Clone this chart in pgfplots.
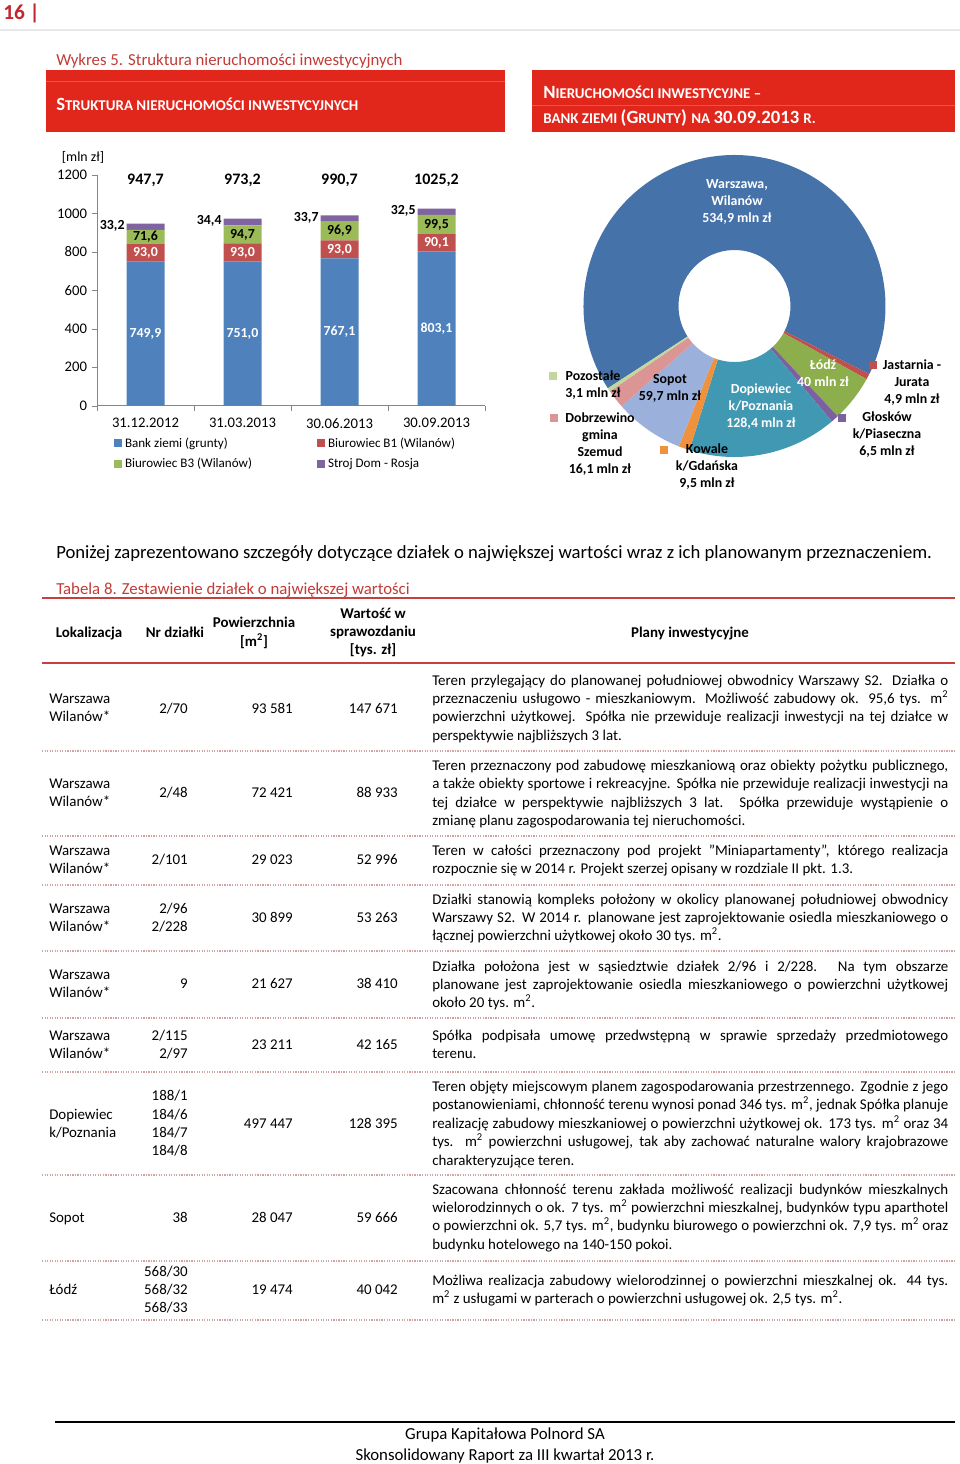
\documentclass[border=0pt]{standalone}
\usepackage{fontspec}
\setmainfont{Carlito}
\usepackage{pgfplots}
\pgfplotsset{compat=1.18}
\usepackage{pgfplotstable}

\definecolor{pgred}{HTML}{C0282D}
\definecolor{boxred}{HTML}{E1261C}
\definecolor{boxline}{HTML}{E9574C}
\definecolor{capred}{HTML}{C33A36}
\definecolor{rulered}{HTML}{C7403D}
\definecolor{rowline}{HTML}{CFA3A3}
\definecolor{axgray}{HTML}{868686}
\definecolor{bblue}{HTML}{4F81BD}
\definecolor{bred}{HTML}{C0504D}
\definecolor{bgreen}{HTML}{9BBB59}
\definecolor{bpurple}{HTML}{8064A2}
\definecolor{dwar}{HTML}{4672AA}
\definecolor{djas}{HTML}{C0504D}
\definecolor{dlod}{HTML}{8DAE4C}
\definecolor{dglo}{HTML}{7D60A0}
\definecolor{ddop}{HTML}{4198B3}
\definecolor{dkow}{HTML}{F0913E}
\definecolor{dsop}{HTML}{9BB0DA}
\definecolor{ddob}{HTML}{DA9594}
\definecolor{dpoz}{HTML}{C3D69B}

\newcommand\fsz[2]{\fontsize{#1}{#2}\selectfont}
\tikzset{
  seg/.style={font=\fsz{10.4}{12}\bfseries,inner sep=1pt},
  tot/.style={font=\fsz{12}{14}\bfseries},
  dl/.style={align=center,font=\fsz{10.4}{12.75}\bfseries,inner sep=0},
  th/.style={font=\fsz{11.2}{13}\bfseries,inner sep=0,anchor=base},
}
\pgfplotsset{
  barframe/.style={
    at={(72.75pt,-304.275pt)}, anchor=south west,
    scale only axis, width=291pt, height=173pt,
    xmin=-0.5, xmax=3.5, ymin=0, ymax=1200, clip=false,
  },
}

% bar chart data [mln zl]
\pgfplotstableread{
x bank b1 b3 stroj
0 749.9 93.0 71.6 33.2
1 751.0 93.0 94.7 34.4
2 767.1 93.0 96.9 33.7
3 803.1 90.1 99.5 32.5
}\bars

% doughnut data, clockwise
\pgfplotstableread{
v c
534.9 dwar
4.9 djas
40 dlod
6.5 dglo
128.4 ddop
9.5 dkow
59.7 dsop
16.1 ddob
3.1 dpoz
}\donut

% table text lines
\newcommand\pl[2]{\node[anchor=base west,inner sep=0] at (432,#1) {\makebox[387pt][s]{#2}};}
\newcommand\plx[2]{\node[anchor=base west,inner sep=0] at (432,#1) {#2};}
\newcommand\loc[2]{\node[anchor=base west,inner sep=0] at (49,#1) {#2};}
\newcommand\nr[2]{\node[anchor=base east,inner sep=0] at (188,#1) {#2};}
\newcommand\pow[2]{\node[anchor=base east,inner sep=0] at (293,#1) {#2};}
\newcommand\war[2]{\node[anchor=base east,inner sep=0] at (398,#1) {#2};}
\newcommand\msq{m\textsuperscript{2}}
\newcommand\bg{\fsz{14}{16}}
\newcommand\sm{\fsz{11.2}{13}}

\begin{document}
\begin{tikzpicture}[x=0.75pt,y=-0.75pt]
\path[use as bounding box] (0,0) rectangle (960,1464);

% page head
\node[anchor=base west,inner sep=0,text=pgred,font=\fsz{16}{18}\bfseries] at (3,19) {16 |};
\draw[line width=2.2pt,draw=black!9] (0,30) -- (960,30);

\node[anchor=base west,inner sep=0,text=capred,font=\fsz{12.6}{14}] at (56,65) {Wykres 5. Struktura nieruchomości inwestycyjnych};

\fill[boxred] (46,70) rectangle (505,132);
\fill[boxred] (532,70) rectangle (955,132);
\draw[boxline,line width=0.6pt] (46,81) -- (505,81);
\draw[boxline,line width=0.6pt] (532,105) -- (955,105);
\node[anchor=base west,inner sep=0,text=white,font=\bfseries] at (56,110)
  {\bg S\sm TRUKTURA NIERUCHOMOŚCI INWESTYCYJNYCH};
\node[anchor=base west,inner sep=0,text=white,font=\bfseries] at (543,98)
  {\bg N\sm IERUCHOMOŚCI INWESTYCYJNE –};
\node[anchor=base west,inner sep=0,text=white,font=\bfseries] at (543,123)
  {\sm BANK ZIEMI \bg (G\sm RUNTY\bg ) \sm NA \bg 30.09.2013 \sm R.};

% stacked bar chart
\node[font=\fsz{10.4}{12}] at (83,157) {[mln zł]};
\begin{axis}[
  barframe,
  ybar stacked, bar width=28.5pt,
  axis x line*=bottom, axis y line*=left,
  axis line style={draw=axgray},
  tick style={draw=axgray},
  tick align=outside, major tick length=4pt,
  ytick={0,200,...,1200},
  xtick={-0.5,0.5,1.5,2.5,3.5}, xticklabels={},
  extra x ticks={0,1,2,3},
  extra x tick labels={31.12.2012,31.03.2013,30.06.2013,30.09.2013},
  extra x tick style={major tick length=0pt},
  ticklabel style={font=\fsz{11}{13}},
  x tick label style={yshift=-6pt},
  /pgf/number format/assume math mode=true,
  /pgf/number format/1000 sep={},
  legend columns=2,
  legend cell align=left,
  legend style={at={(0.044,-0.125)}, anchor=north west, draw=none,
    font=\fsz{9.8}{11}, inner sep=0pt, row sep=3pt,
    /tikz/every even column/.append style={column sep=47pt}},
  legend image code/.code={\draw[#1,draw=none] (0pt,-3pt) rectangle (6pt,3pt);},
]
\addplot[fill=bblue,draw=none] table[x=x,y=bank] {\bars};
\addplot[fill=bred,draw=none] table[x=x,y=b1] {\bars};
\addplot[fill=bgreen,draw=none] table[x=x,y=b3] {\bars};
\addplot[fill=bpurple,draw=none] table[x=x,y=stroj] {\bars};
\legend{Bank ziemi (grunty),Biurowiec B1 (Wilanów),Biurowiec B3 (Wilanów),Stroj Dom - Rosja}
\end{axis}

% value labels, in the same frame, drawn over the bars
\begin{axis}[barframe, hide axis]
\addplot[draw=none,mark=none,forget plot] coordinates {(0,0)};
\node[seg,text=white] at (axis cs:0,375) {749,9};
\node[seg,text=white] at (axis cs:1,375) {751,0};
\node[seg,text=white] at (axis cs:2,383) {767,1};
\node[seg,text=white] at (axis cs:3,401) {803,1};
\node[seg,text=white] at (axis cs:0,796) {93,0};
\node[seg,text=white] at (axis cs:1,797) {93,0};
\node[seg,text=white] at (axis cs:2,813) {93,0};
\node[seg,text=white] at (axis cs:3,848) {90,1};
\node[seg] at (axis cs:0,879) {71,6};
\node[seg] at (axis cs:1,891) {94,7};
\node[seg] at (axis cs:2,908) {96,9};
\node[seg] at (axis cs:3,943) {99,5};
\node[seg,anchor=east,xshift=-14.5pt] at (axis cs:0,936) {33,2};
\node[seg,anchor=east,xshift=-14.5pt] at (axis cs:1,960) {34,4};
\node[seg,anchor=east,xshift=-14.5pt] at (axis cs:2,978) {33,7};
\node[seg,anchor=east,xshift=-14.5pt] at (axis cs:3,1015) {32,5};
\node[tot] at (axis cs:0,1175) {947,7};
\node[tot] at (axis cs:1,1175) {973,2};
\node[tot] at (axis cs:2,1175) {990,7};
\node[tot] at (axis cs:3,1175) {1025,2};
\end{axis}

% doughnut chart
\begin{axis}[
  at={(550.875pt,-229.5pt)}, anchor=center,
  hide axis, scale only axis, width=226.5pt, height=226.5pt,
  xmin=-1, xmax=1, ymin=-1, ymax=1, clip=false,
]
\addplot[draw=none,mark=none,forget plot] coordinates {(0,0)};
\pgfplotsextra{
  \pgfplotstablegetrowsof{\donut}\pgfmathtruncatemacro\nrows{\pgfplotsretval-1}
  \gdef\dsum{0}
  \foreach \i in {0,...,\nrows}{
    \pgfplotstablegetelem{\i}{v}\of\donut
    \pgfmathparse{\dsum+\pgfplotsretval}\xdef\dsum{\pgfmathresult}
  }
  \gdef\astart{213}
  \foreach \i in {0,...,\nrows}{
    \pgfplotstablegetelem{\i}{v}\of\donut \let\val\pgfplotsretval
    \pgfplotstablegetelem{\i}{c}\of\donut \let\col\pgfplotsretval
    \pgfmathsetmacro\aend{\astart-\val/\dsum*360}
    \fill[fill=\col,shift={(axis cs:0,0)}] (\astart:113.25pt)
      arc[start angle=\astart,end angle=\aend,radius=113.25pt]
      -- (\aend:42pt) arc[start angle=\aend,end angle=\astart,radius=42pt] -- cycle;
    \xdef\astart{\aend}
  }
}
\end{axis}

\node[dl,text=white] at (737,202) {Warszawa,\\Wilanów\\534,9 mln zł};
\node[dl] at (593,385.5) {Pozostałe\\3,1 mln zł};
\node[dl] at (600,444.5) {Dobrzewino\\gmina\\Szemud\\16,1 mln zł};
\node[dl] at (670,388) {Sopot\\59,7 mln zł};
\node[dl,text=white] at (761,407) {Dopiewiec\\k/Poznania\\128,4 mln zł};
\node[dl] at (707,467) {Kowale\\k/Gdańska\\9,5 mln zł};
\node[dl,text=white] at (823,373.5) {Łódź\\40 mln zł};
\node[dl] at (912,382.5) {Jastarnia -\\Jurata\\4,9 mln zł};
\node[dl] at (887,435) {Głosków\\k/Piaseczna\\6,5 mln zł};
\node[inner sep=0] at (553,376) {\textcolor{dpoz}{\rule{6pt}{6pt}}};
\node[inner sep=0] at (554,418) {\textcolor{ddob}{\rule{6pt}{6pt}}};
\node[inner sep=0] at (664,450) {\textcolor{dkow}{\rule{6pt}{6pt}}};
\node[inner sep=0] at (873,365) {\textcolor{djas}{\rule{6pt}{6pt}}};
\node[inner sep=0] at (842,418) {\textcolor{dglo}{\rule{6pt}{6pt}}};

% text and table
\node[anchor=base west,inner sep=0,font=\fsz{14}{16}] at (56,558) {Poniżej zaprezentowano szczegóły dotyczące działek o największej wartości wraz z ich planowanym przeznaczeniem.};
\node[anchor=base west,inner sep=0,text=capred,font=\fsz{12.6}{14}] at (56,594) {Tabela 8. Zestawienie działek o największej wartości};
\draw[rulered,line width=1.6pt] (42,598) -- (955,598);
\draw[rulered,line width=1.6pt] (42,663) -- (955,663);
\foreach \yy in {751,836,885,951,1018,1072,1175,1261,1320}
  \draw[rowline,line width=0.9pt,densely dotted] (42,\yy) -- (955,\yy);

\node[th] at (89,637) {Lokalizacja};
\node[th] at (175,637) {Nr działki};
\node[th] at (254,627) {Powierzchnia};
\node[th] at (254,646) {[\msq]};
\node[th] at (373,618) {Wartość w};
\node[th] at (373,636) {sprawozdaniu};
\node[th] at (373,654) {[tys. zł]};
\node[th] at (690,637) {Plany inwestycyjne};

\begin{scope}[font=\fsz{11.2}{13}]
% row 1
\loc{703}{Warszawa}\loc{721}{Wilanów*}
\nr{713}{2/70}\pow{713}{93 581}\war{713}{147 671}
\pl{685}{Teren przylegający do planowanej południowej obwodnicy Warszawy S2. Działka o}
\pl{703}{przeznaczeniu usługowo - mieszkaniowym. Możliwość zabudowy ok. 95,6 tys. \msq}
\pl{721}{powierzchni użytkowej. Spółka nie przewiduje realizacji inwestycji na tej działce w}
\plx{740}{perspektywie najbliższych 3 lat.}
% row 2
\loc{788}{Warszawa}\loc{806}{Wilanów*}
\nr{797}{2/48}\pow{797}{72 421}\war{797}{88 933}
\pl{770}{Teren przeznaczony pod zabudowę mieszkaniową oraz obiekty pożytku publicznego,}
\pl{788}{a także obiekty sportowe i rekreacyjne. Spółka nie przewiduje realizacji inwestycji na}
\pl{807}{tej działce w perspektywie najbliższych 3 lat. Spółka przewiduje wystąpienie o}
\plx{825}{zmianę planu zagospodarowania tej nieruchomości.}
% row 3
\loc{855}{Warszawa}\loc{873}{Wilanów*}
\nr{864}{2/101}\pow{864}{29 023}\war{864}{52 996}
\pl{855}{Teren w całości przeznaczony pod projekt "Miniapartamenty", którego realizacja}
\plx{873}{rozpocznie się w 2014 r. Projekt szerzej opisany w rozdziale II pkt. 1.3.}
% row 4
\loc{913}{Warszawa}\loc{931}{Wilanów*}
\nr{913}{2/96}\nr{931}{2/228}\pow{922}{30 899}\war{922}{53 263}
\pl{904}{Działki stanowią kompleks położony w okolicy planowanej południowej obwodnicy}
\pl{922}{Warszawy S2. W 2014 r. planowane jest zaprojektowanie osiedla mieszkaniowego o}
\plx{940}{łącznej powierzchni użytkowej około 30 tys. \msq.}
% row 5
\loc{979}{Warszawa}\loc{997}{Wilanów*}
\nr{988}{9}\pow{988}{21 627}\war{988}{38 410}
\pl{971}{Działka położona jest w sąsiedztwie działek 2/96 i 2/228. Na tym obszarze}
\pl{989}{planowane jest zaprojektowanie osiedla mieszkaniowego o powierzchni użytkowej}
\plx{1007}{około 20 tys. \msq.}
% row 6
\loc{1040}{Warszawa}\loc{1058}{Wilanów*}
\nr{1040}{2/115}\nr{1058}{2/97}\pow{1049}{23 211}\war{1049}{42 165}
\pl{1040}{Spółka podpisała umowę przedwstępną w sprawie sprzedaży przedmiotowego}
\plx{1058}{terenu.}
% row 7
\loc{1119}{Dopiewiec}\loc{1137}{k/Poznania}
\nr{1100}{188/1}\nr{1119}{184/6}\nr{1137}{184/7}\nr{1155}{184/8}
\pow{1128}{497 447}\war{1128}{128 395}
\pl{1091}{Teren objęty miejscowym planem zagospodarowania przestrzennego. Zgodnie z jego}
\pl{1109}{postanowieniami, chłonność terenu wynosi ponad 346 tys. \msq, jednak Spółka planuje}
\pl{1128}{realizację zabudowy mieszkaniowej o powierzchni użytkowej ok. 173 tys. \msq{} oraz 34}
\pl{1146}{tys. \msq{} powierzchni usługowej, tak aby zachować naturalne walory krajobrazowe}
\plx{1165}{charakteryzujące teren.}
% row 8
\loc{1222}{Sopot}
\nr{1222}{38}\pow{1222}{28 047}\war{1222}{59 666}
\pl{1194}{Szacowana chłonność terenu zakłada możliwość realizacji budynków mieszkalnych}
\pl{1212}{wielorodzinnych o ok. 7 tys. \msq{} powierzchni mieszkalnej, budynków typu aparthotel}
\pl{1230}{o powierzchni ok. 5,7 tys. \msq, budynku biurowego o powierzchni ok. 7,9 tys. \msq{} oraz}
\plx{1249}{budynku hotelowego na 140-150 pokoi.}
% row 9
\loc{1294}{Łódź}
\nr{1276}{568/30}\nr{1294}{568/32}\nr{1312}{568/33}
\pow{1294}{19 474}\war{1294}{40 042}
\pl{1285}{Możliwa realizacja zabudowy wielorodzinnej o powierzchni mieszkalnej ok. 44 tys.}
\plx{1303}{\msq{} z usługami w parterach o powierzchni usługowej ok. 2,5 tys. \msq.}
\end{scope}

% footer
\draw[black,line width=0.9pt] (55,1422) -- (955,1422);
\node[anchor=base,inner sep=0,font=\fsz{12.6}{14}] at (505,1439) {Grupa Kapitałowa Polnord SA};
\node[anchor=base,inner sep=0,font=\fsz{12.6}{14}] at (505,1460) {Skonsolidowany Raport za III kwartał 2013 r.};
\end{tikzpicture}
\end{document}
